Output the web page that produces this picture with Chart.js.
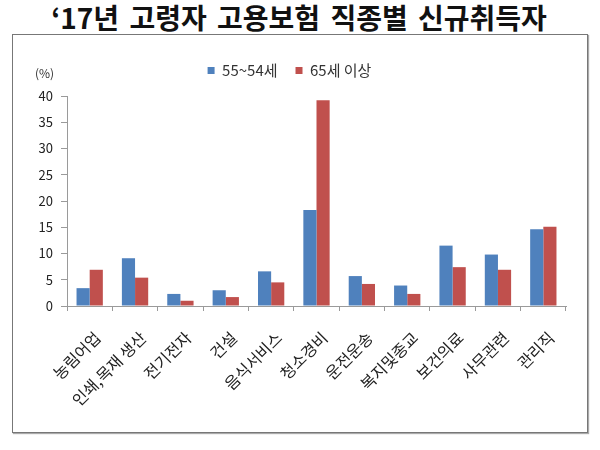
<!DOCTYPE html>
<html>
<head>
<meta charset="utf-8">
<script src="https://cdn.jsdelivr.net/npm/chart.js@4.4.1/dist/chart.umd.min.js"></script>
<style>
  html, body { margin: 0; padding: 0; background: #fff; }
  body { width: 600px; height: 450px; position: relative; overflow: hidden;
         font-family: "Noto Sans CJK KR", "Noto Sans", sans-serif; }
  #title { position: absolute; left: 0; top: 0px; width: 598px; text-align: center;
           font-size: 28px; font-weight: bold; color: #111; word-spacing: 4px; line-height: 34px; }
  #frame { position: absolute; left: 12px; top: 34px; width: 576px; height: 399px;
           box-sizing: border-box; border: 1px solid #777; box-shadow: 1px 1px 1px #aaa; }
  #unit { position: absolute; left: 22px; top: 29px; font-size: 12px; color: #333; }
  canvas { position: absolute; left: 0; top: 0; }
</style>
</head>
<body>
<div id="title">‘17년 고령자 고용보험 직종별 신규취득자</div>
<div id="frame">
  <div style="position:absolute; left:0; top:0; width:574px; height:397px;">
    <canvas id="jobChart"></canvas>
  </div>
  <div id="unit">(%)</div>
</div>
<script>
// DATA
const categories = ["농림어업", "인쇄,목재 생산", "전기전자", "건설", "음식서비스", "청소경비",
                    "운전운송", "복지및종교", "보건의료", "사무관련", "관리직"];
const age55 = [3.4, 9.1, 2.3, 3.0, 6.6, 18.3, 5.7, 3.9, 11.5, 9.8, 14.6];
const age65 = [6.9, 5.4, 1.0, 1.7, 4.5, 39.2, 4.2, 2.3, 7.4, 6.9, 15.1];
const seriesNames = ["55~54세", "65세 이상"];
const yTicks = [0, 5, 10, 15, 20, 25, 30, 35, 40];

const FONT = "'Noto Sans CJK KR', 'Noto Sans', sans-serif";
const AXIS = "#9a9a9a";

const ctx = document.getElementById("jobChart").getContext("2d");

const chart = new Chart(ctx, {
  type: "bar",
  data: {
    labels: categories,
    datasets: [
      { label: seriesNames[0], data: age55, backgroundColor: "#4F81BD" },
      { label: seriesNames[1], data: age65, backgroundColor: "#C0504D" }
    ]
  },
  options: {
    responsive: true,
    maintainAspectRatio: false,
    animation: false,
    categoryPercentage: 0.58,
    barPercentage: 1.0,
    layout: { padding: { top: 10, right: 21, left: 0, bottom: 0 } },
    plugins: {
      legend: {
        display: true,
        position: "top",
        labels: {
          boxWidth: 7,
          boxHeight: 7,
          padding: 18,
          color: "#333",
          font: { family: FONT, size: 15 }
        }
      },
      // empty spacer between the legend and the plot
      title: {
        display: true,
        text: " ",
        position: "top",
        weight: 500,
        font: { size: 1, lineHeight: 1 },
        padding: { top: 0, bottom: 7 }
      },
      tooltip: { enabled: false }
    },
    scales: {
      x: {
        grid: { display: true, drawOnChartArea: false, drawTicks: true, tickLength: 5, color: AXIS },
        border: { display: true, color: AXIS },
        ticks: {
          color: "#222",
          font: { family: FONT, size: 16 },
          minRotation: 45,
          maxRotation: 45,
          autoSkip: false,
          labelOffset: 8,
          padding: 17
        },
        afterFit: (scale) => { scale.height = 126; }
      },
      y: {
        min: 0,
        max: 40,
        grid: { display: true, drawOnChartArea: false, drawTicks: true, tickLength: 6, color: AXIS },
        border: { display: true, color: AXIS },
        afterBuildTicks: (scale) => { scale.ticks = yTicks.map(v => ({ value: v })); },
        ticks: {
          color: "#222",
          font: { family: FONT, size: 13 },
          padding: 8
        },
        // plot top sits 61px below the canvas top
        afterFit: (scale) => { scale.width = 54; scale.paddingTop = 61; }
      }
    }
  }
});
</script>
</body>
</html>
